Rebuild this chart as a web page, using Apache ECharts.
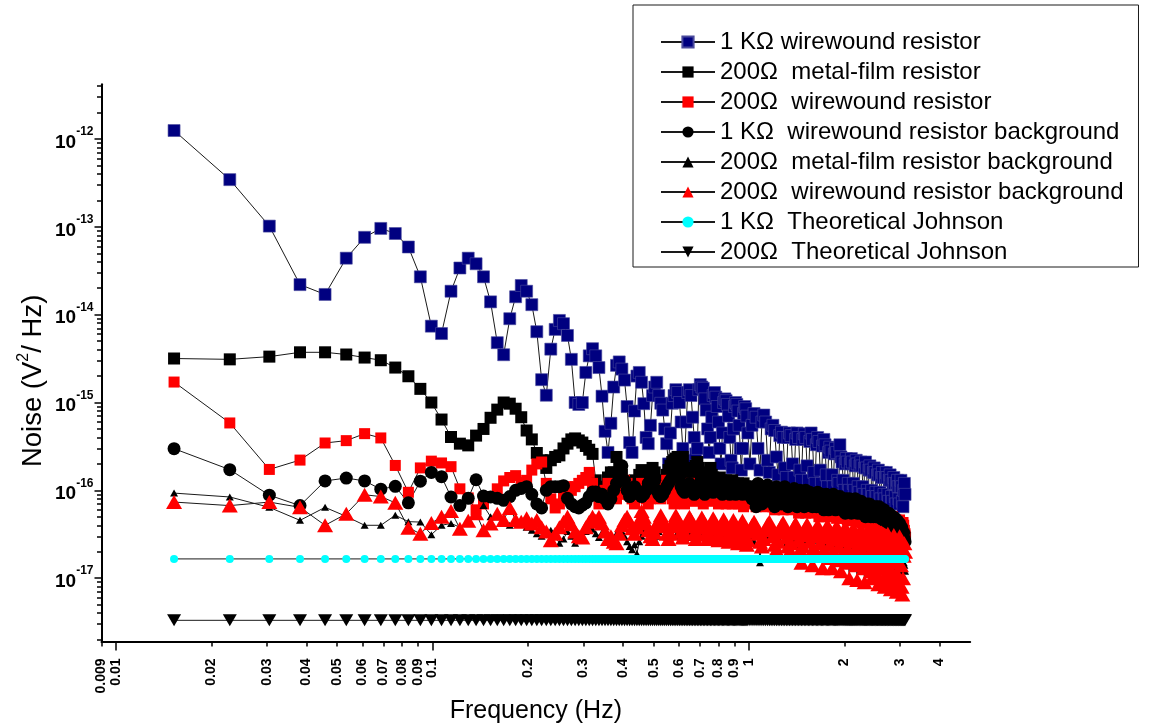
<!DOCTYPE html>
<html>
<head>
<meta charset="utf-8">
<title>Resistor noise spectra</title>
<script src="https://cdn.jsdelivr.net/npm/echarts@6/dist/echarts.min.js"></script>
<style>
html, body { margin: 0; padding: 0; background: #fff; }
#chart { width: 1149px; height: 727px; }
</style>
</head>
<body>
<div id="chart"></div>
<script>
// ---------------- data ----------------
// FFT bin width (Hz); bins 2..130 every bin, 132..408 every second bin
const DF_HZ = 0.0076294;
const BIN_INDEX = [];
for (let n = 2; n <= 130; n++) BIN_INDEX.push(n);
for (let n = 132; n <= 408; n += 2) BIN_INDEX.push(n);
const FREQ_HZ = BIN_INDEX.map(n => n * DF_HZ);

// noise values below are in units of 1e-17 V^2/Hz
const UNIT = 1e-17;

const WW_1K = [
  125000, 34500, 10200, 2200, 1700, 4400, 7600, 9600, 8400,
  5900, 2700, 740, 610, 1850, 3400, 4400, 3800, 2700, 1400,
  480, 350, 900, 1600, 2150, 1850, 1300, 640, 182, 121,
  405, 680, 860, 790, 580, 310, 100, 95, 100, 220,
  340, 410, 340, 250, 118, 47, 27, 58, 150, 265,
  290, 240, 180, 90, 35, 27, 80, 200, 220, 170,
  97, 40, 34, 55, 120, 150, 170, 120, 98, 82,
  50, 34, 20, 45, 98, 120, 140, 130, 100, 60,
  30, 22, 60, 130, 140, 120, 68, 40, 26, 30,
  140, 160, 150, 145, 110, 82, 50, 27, 40, 68,
  120, 130, 115, 90, 60, 30, 20, 45, 100, 110,
  105, 95, 70, 40, 22, 18, 50, 90, 100, 95,
  80, 55, 30, 17, 30, 75, 90, 85, 70, 45,
  20, 55, 75, 68, 30, 17, 60, 72, 60, 22,
  16, 50, 55, 48, 24, 15, 42, 46, 40, 18,
  14, 40, 45, 42, 20, 14, 38, 45, 40, 17,
  13, 38, 44, 40, 19, 13, 36, 45, 38, 16,
  12, 33, 40, 36, 17, 12, 32, 38, 33, 15,
  11, 27, 31, 28, 15, 11, 26, 30, 27, 13,
  12, 33, 24, 21, 13, 10, 20, 23, 21, 12,
  10, 20, 23, 21, 12, 10, 19, 22, 20, 11,
  9.5, 19, 21, 19, 11, 9, 18, 21, 18, 10,
  9, 17, 19, 17, 10, 8.5, 16, 18, 16, 9.5,
  8.5, 15, 17, 15, 9.5, 8, 14, 16, 14, 9,
  8, 14, 16, 14, 9, 7.5, 13, 15, 13, 8.5,
  7.5, 12, 14, 12, 8.5, 7, 12, 13, 11, 8,
  7, 11, 13, 11, 7.5, 6.5, 10, 12, 9
];

const MF_200 = [
  317, 310, 333, 373, 373, 352, 325, 303, 250,
  199, 143, 100, 64, 40.5, 34, 32.5, 42, 50, 67,
  83, 100, 97, 85, 68, 48, 38, 26.6, 22, 18,
  22, 24, 25, 30, 34, 38, 39, 37, 35, 32,
  29, 26, 13, 10, 9, 11, 14, 16, 16, 24,
  18, 15, 12, 10, 9, 11, 13, 12, 15, 17,
  16, 14, 12, 15, 18, 16, 12, 10, 9, 11,
  13, 15, 17, 19, 21, 22, 23, 24, 22, 20,
  24, 18, 14, 11, 10, 12, 15, 17, 19, 21,
  18, 15, 12, 10, 9, 12, 14, 16, 18, 15,
  14, 12, 11, 10, 12, 14, 13, 11, 10, 12,
  13, 12, 10, 9, 11, 13, 12, 10, 9, 11,
  12, 11, 10, 9, 10, 12, 11, 9, 9, 10,
  11, 10, 9, 10, 11, 9, 8.5, 10, 11, 9,
  9, 10, 8.5, 8, 9.5, 10, 9, 8, 9, 10,
  9, 8, 8.5, 9.5, 9, 8, 7.5, 9, 9, 8,
  8, 9, 8.5, 7.5, 8, 9, 8, 7.5, 8.5, 9,
  8, 7.5, 8, 8.5, 7.5, 7, 8, 8.5, 7.5, 7,
  7.5, 8, 7, 6.5, 7.5, 8, 7, 6.5, 7, 7.5,
  7, 6.5, 7, 7.5, 6.5, 6, 7, 7, 6.5, 6,
  6.5, 7, 6.5, 6, 6.5, 7, 6, 5.5, 6.5, 6.5,
  6, 5.5, 6, 6.5, 6, 5.5, 6, 6, 5.5, 5,
  5.5, 6, 5.5, 5, 5.5, 6, 5.5, 5, 5.5, 5,
  5, 5.5, 5, 4.8, 5, 5.5, 5, 4.6, 5, 4.8,
  4.6, 5, 4.8, 4.4, 4.6, 5, 4.6, 4.3, 4.5, 4.2,
  4.4, 4.2, 4, 4.3, 4.1, 3.8, 4, 3.9, 3.6, 3.8,
  3.6, 3.5, 3.7, 3.4, 3.2, 3.4, 3.1, 3.0, 2.9
];

const WW_200 = [
  171, 58.5, 17.3, 22.1, 34.6, 36.8, 44.2, 39.5, 19.2,
  9.5, 18, 21.5, 20.5, 18.6, 10.4, 8.2, 6, 7, 8.5,
  10.4, 12.8, 14, 14.7, 12.3, 13, 17, 20, 21, 12,
  8, 6.3, 7, 9, 11, 10, 11, 12, 13, 14,
  16, 12, 9, 7, 8, 10, 12, 11, 9, 8,
  9, 11, 13, 12, 10, 8, 7, 9, 11, 12,
  10, 8, 7, 8, 10, 12, 11, 9, 8, 9,
  11, 13, 12, 10, 8, 7, 8, 10, 11, 9,
  8, 7, 9, 11, 12, 10, 8, 7.5, 9, 10,
  11, 9, 8, 7, 8, 10, 11, 9, 7.5, 8,
  10, 11, 9.5, 8, 7, 8, 9.5, 10, 9, 7.5,
  7, 8.5, 10, 9, 7.5, 7, 8, 9.5, 9, 7.5,
  7, 7.5, 9, 9.5, 8, 6.5, 7, 8.5, 9, 7.5,
  8, 9, 7.5, 6.5, 7, 8.5, 9, 7.5, 6.5, 7,
  8.5, 8, 6.5, 6, 7, 8, 8.5, 7, 6, 6.5,
  8, 8.5, 7, 6, 6.5, 7.5, 8, 6.5, 5.5, 6.5,
  7.5, 8, 6.5, 5.5, 6, 7.5, 7.5, 6, 5.5, 6.5,
  7.5, 7, 6, 5, 6, 7, 7, 5.5, 5, 6,
  7, 6.5, 5.5, 5, 5.5, 6.5, 7, 5.5, 4.8, 5.5,
  6.5, 6.5, 5.5, 4.8, 5.5, 6.5, 6, 5, 4.6, 5.5,
  6.5, 6, 5, 4.5, 5, 6, 6, 5, 4.4, 5,
  6, 5.5, 4.8, 4.3, 5, 5.8, 5.5, 4.6, 4.2, 5,
  5.8, 5.5, 4.6, 4.1, 4.8, 5.5, 5.2, 4.4, 4, 4.6,
  5.5, 5, 4.4, 3.9, 4.5, 5.2, 5, 4.2, 3.8, 4.4,
  5.2, 4.8, 4.1, 3.7, 4.3, 5, 4.6, 4, 3.6, 4.2,
  5, 4.5, 3.9, 3.5, 4, 4.6, 4.4, 3.8, 3.4, 3.9,
  4.6, 4.2, 3.7, 3.3, 3.8, 4.3, 4, 3.5, 3.2
];

const WW_1K_BG = [
  29.8, 17.2, 8.8, 6.7, 12.8, 13.8, 12.8, 10.3, 11.1,
  7.2, 12.7, 16, 14.3, 8.4, 6.7, 8.1, 13.2, 8.6, 8.4,
  8.1, 7.7, 8.5, 10, 10.5, 11, 9, 7, 6.3, 10,
  11, 11, 11, 11.3, 8.1, 7, 6.5, 6.3, 6.8, 7.2,
  8.5, 9.6, 9.6, 8.5, 9, 8, 7, 8, 10, 12,
  14, 19, 13, 10, 8.5, 9, 11, 10, 9, 8.5,
  9, 10, 12, 14, 17, 13, 10, 9, 8.5, 9,
  10, 11, 12, 13, 14, 16, 19, 20, 14, 11,
  10, 9.5, 10, 11, 12, 11, 10, 9, 9.5, 10.5,
  11, 12, 10.5, 9.5, 9, 10, 11, 12, 11, 10,
  9.5, 10, 11, 12, 11, 10, 9.5, 9, 10, 11,
  11.5, 11, 10, 9, 9.5, 10.5, 11, 10, 9, 9.5,
  10, 11, 10.5, 9.5, 9, 9.5, 10.5, 11, 10, 9,
  11, 8, 10, 6.5, 12, 9, 7, 10.5, 8.5, 11.5,
  7.5, 10, 9, 6.5, 11, 8, 10.5, 7, 9.5, 11,
  8, 6.5, 10, 9, 7, 10.5, 8, 6.5, 9.5, 10,
  7.5, 9, 6.5, 10, 8, 7, 9.5, 8.5, 6.5, 9,
  8.5, 6.5, 9.5, 7.5, 6.5, 9, 8, 6, 8.5, 9,
  7, 6, 8.5, 8, 6.5, 9, 7, 6, 8.5, 7.5,
  6.5, 8.5, 7, 6, 8, 7.5, 5.5, 8, 7, 6.5,
  8, 6.5, 5.5, 7.5, 7, 6, 8, 6.5, 5.5, 7.5,
  7, 5.5, 7.5, 6.5, 5.5, 7, 6.5, 5, 7, 6.5,
  5.5, 7, 6, 5, 6.5, 6.5, 5, 6.5, 6, 5,
  6.5, 5.5, 5, 6.5, 6, 4.8, 6, 5.5, 4.6, 6,
  5.5, 4.5, 5.5, 5.2, 4.3, 5.5, 5, 4.2, 5.2, 4.8,
  4, 5, 4.6, 3.8, 4.8, 4.2, 3.5, 4.5, 4, 3.4,
  4.2, 3.6, 3.1, 3.8, 3.2, 2.8, 3.3, 2.8, 2.6
];

const MF_200_BG = [
  9.3, 8.4, 6.4, 4.55, 6.4, 5.05, 4.0, 4.0, 5.2,
  4.4, 4.35, 3.13, 4.0, 4.2, 3.8, 4.2, 5.6, 6.7, 5.0,
  5.0, 4.3, 4.0, 4.5, 4.2, 3.8, 3.5, 3.2, 3.0, 3.3,
  3.5, 3.0, 2.5, 2.8, 3.4, 3.0, 2.5, 2.7, 3.0, 3.4,
  3.8, 3.6, 3.2, 2.9, 3.3, 3.6, 3.0, 2.5, 2.8, 3.2,
  3.6, 3.4, 3.0, 2.6, 2.3, 2.1, 2.4, 1.9, 2.6, 3.0,
  3.4, 3.8, 4.0, 3.6, 3.2, 2.8, 3.0, 3.4, 3.9, 4.2,
  3.8, 3.3, 2.9, 3.2, 3.6, 4.0, 3.7, 3.3, 3.0, 3.4,
  3.8, 4.1, 3.7, 3.2, 2.9, 3.3, 3.7, 4.0, 3.6, 3.1,
  2.9, 3.3, 3.8, 4.2, 3.9, 3.4, 3.0, 3.3, 3.7, 4.0,
  3.6, 3.2, 2.8, 3.1, 3.5, 3.9, 3.6, 3.1, 2.8, 3.2,
  3.6, 3.9, 3.5, 3.0, 2.7, 3.1, 3.5, 3.8, 3.4, 3.0,
  2.7, 3.0, 3.4, 3.7, 3.3, 2.9, 2.6, 3.0, 3.4, 3.6,
  3.3, 2.9, 2.6, 3.0, 3.4, 1.5, 3.2, 2.8, 2.6, 3.0,
  3.4, 3.6, 3.2, 2.8, 2.5, 2.9, 3.3, 3.5, 3.1, 2.7,
  2.5, 2.8, 3.2, 3.4, 3.0, 2.6, 2.4, 2.8, 3.1, 3.3,
  2.9, 2.6, 2.4, 2.7, 3.0, 3.2, 2.9, 2.5, 2.3, 2.7,
  3.0, 3.1, 2.8, 2.5, 2.3, 2.6, 2.9, 3.0, 2.7, 2.4,
  2.2, 2.5, 2.8, 2.9, 2.6, 2.3, 2.2, 2.5, 2.8, 2.8,
  2.5, 2.2, 2.1, 2.4, 2.7, 2.7, 2.4, 2.1, 2.0, 2.3,
  2.6, 2.6, 2.3, 2.1, 2.0, 2.3, 2.5, 2.5, 2.2, 2.0,
  1.9, 2.2, 2.4, 2.4, 2.1, 1.9, 1.9, 2.1, 2.3, 2.3,
  2.0, 1.8, 1.8, 2.0, 2.2, 2.2, 1.9, 1.7, 1.7, 1.9,
  2.1, 2.1, 1.8, 1.6, 1.6, 1.8, 2.0, 2.0, 1.7, 1.5,
  1.5, 1.7, 1.9, 1.9, 1.6, 1.4, 1.4, 1.6, 1.8, 1.8,
  1.5, 1.3, 1.3, 1.5, 1.7, 1.7, 1.4, 1.2, 1.2, 1.4,
  1.6, 1.6, 1.3, 1.1, 1.1, 1.3, 1.5, 1.4, 1.2
];

const WW_200_BG = [
  7.35, 6.7, 7.35, 6.4, 4.0, 5.4, 8.9, 8.5, 7.2,
  3.76, 3.2, 4.24, 5.0, 5.8, 3.66, 4.5, 5.5, 3.5, 4.2,
  5.4, 4.6, 6.3, 4.6, 4.4, 4.8, 4.2, 4.6, 3.8, 3.4,
  2.7, 3.2, 3.8, 4.4, 5.0, 4.1, 3.4, 3.0, 2.9, 3.8,
  4.4, 5.0, 4.5, 5.0, 4.2, 3.4, 2.8, 3.0, 2.6, 2.5,
  3.2, 4.0, 4.6, 5.0, 4.4, 3.7, 3.2, 3.8, 4.6, 5.8,
  5.0, 4.2, 3.5, 3.0, 2.8, 3.3, 4.0, 4.6, 5.2, 4.6,
  3.9, 3.2, 2.8, 3.2, 3.9, 4.6, 5.2, 4.7, 4.0, 3.4,
  2.9, 3.3, 3.9, 4.5, 5.0, 4.6, 3.9, 3.2, 2.8, 3.2,
  3.8, 4.4, 4.9, 4.5, 3.8, 3.2, 2.8, 3.1, 3.7, 4.3,
  4.8, 4.4, 3.7, 3.1, 2.7, 3.0, 3.6, 4.2, 4.7, 4.3,
  3.6, 3.0, 2.6, 2.9, 3.5, 4.1, 4.6, 4.2, 3.5, 2.9,
  2.5, 2.8, 3.4, 4.0, 4.5, 4.1, 3.4, 2.8, 2.4, 2.7,
  3.4, 4.0, 4.4, 3.9, 3.2, 2.6, 2.3, 2.8, 3.5, 4.1,
  4.4, 3.8, 3.0, 2.4, 2.1, 2.6, 3.3, 4.0, 4.3, 3.6,
  2.9, 2.3, 2.0, 2.5, 3.2, 3.9, 4.2, 3.5, 2.7, 2.1,
  1.5, 2.3, 3.1, 3.8, 4.1, 3.4, 2.6, 1.9, 1.4, 2.2,
  3.0, 3.7, 4.0, 3.3, 2.5, 1.8, 1.3, 2.1, 2.9, 3.6,
  4.0, 3.2, 2.4, 1.7, 1.3, 2.0, 2.8, 3.5, 3.9, 3.1,
  2.3, 1.6, 1.2, 1.9, 2.7, 3.4, 3.8, 3.0, 2.2, 1.5,
  1.0, 1.8, 2.6, 3.3, 3.7, 2.9, 2.1, 1.4, 0.95, 1.7,
  2.5, 3.2, 3.6, 2.8, 2.0, 1.3, 0.9, 1.6, 2.4, 3.1,
  3.5, 2.7, 1.9, 1.2, 1.0, 1.5, 2.3, 3.0, 3.4, 2.6,
  1.8, 1.1, 0.85, 1.4, 2.2, 2.9, 3.3, 2.5, 1.7, 1.0,
  0.8, 1.3, 2.1, 2.8, 3.2, 2.4, 1.6, 0.95, 0.75, 1.2,
  2.0, 2.7, 3.1, 2.3, 1.5, 0.9, 0.7, 1.1, 1.9, 2.6,
  3.0, 2.2, 1.4, 0.8, 0.65, 1.0, 1.8, 2.5, 2.0
];

// theoretical Johnson noise levels (V^2/Hz), constant over frequency
const JOHNSON_1K = 1.656e-17;
const JOHNSON_200 = 3.31e-18;

const SERIES_NAMES = [
  '1 KΩ wirewound resistor',
  '200Ω  metal-film resistor',
  '200Ω  wirewound resistor',
  '1 KΩ  wirewound resistor background',
  '200Ω  metal-film resistor background',
  '200Ω  wirewound resistor background',
  '1 KΩ  Theoretical Johnson',
  '200Ω  Theoretical Johnson'
];

// axes
const X_MIN = 0.009, X_MAX = 5;
const Y_MIN = 1.9e-18, Y_MAX = 4.2e-12;
const X_LABEL_TICKS = [0.009, 0.01, 0.02, 0.03, 0.04, 0.05, 0.06, 0.07, 0.08, 0.09,
  0.1, 0.2, 0.3, 0.4, 0.5, 0.6, 0.7, 0.8, 0.9, 1, 2, 3, 4];
const X_MAJOR_TICKS = [0.01, 0.1, 1];
const X_MINOR_TICKS = X_LABEL_TICKS.filter(v => X_MAJOR_TICKS.indexOf(v) < 0);
const Y_MAJOR_TICKS = [1e-17, 1e-16, 1e-15, 1e-14, 1e-13, 1e-12];
const Y_MINOR_TICKS = [];
for (let k = -18; k <= -12; k++) {
  for (let m = 2; m <= 9; m++) {
    const v = m * Math.pow(10, k);
    if (v >= Y_MIN && v <= Y_MAX) Y_MINOR_TICKS.push(v);
  }
}

// ---------------- chart ----------------
const FONT = "'Liberation Sans', Arial, Helvetica, sans-serif";
const toPairs = arr => arr.map((v, i) => [FREQ_HZ[i], v * UNIT]);
const constPairs = level => FREQ_HZ.map(f => [f, level]);

const GRID_BOX = { left: 101.5, right: 178.8, top: 84.3, bottom: 85.5 };

function lineSeries(name, data, symbol, size, color, extra) {
  return Object.assign({
    name: name,
    type: 'line',
    data: data,
    xAxisIndex: 0,
    yAxisIndex: 0,
    symbol: symbol,
    symbolSize: size,
    showAllSymbol: true,
    itemStyle: { color: color },
    lineStyle: { color: '#1a1a1a', width: 1 },
    emphasis: { disabled: true },
    silent: true,
    animation: false
  }, extra || {});
}

const chart = echarts.init(document.getElementById('chart'), null, { renderer: 'canvas' });

const axisLineStyle = { color: '#000', width: 2 };
const tickLineStyle = { color: '#000', width: 1.5 };

const option = {
  animation: false,
  backgroundColor: '#ffffff',
  textStyle: { fontFamily: FONT, color: '#000' },
  grid: [
    Object.assign({ outerBoundsMode: 'none', containLabel: false }, GRID_BOX),
    Object.assign({ outerBoundsMode: 'none', containLabel: false }, GRID_BOX)
  ],
  xAxis: [
    {
      gridIndex: 0,
      type: 'log',
      logBase: 10,
      min: X_MIN,
      max: X_MAX,
      position: 'bottom',
      axisLine: { show: true, onZero: false, lineStyle: axisLineStyle },
      axisTick: { show: true, inside: false, length: 9, customValues: X_MAJOR_TICKS, lineStyle: tickLineStyle },
      minorTick: { show: false },
      splitLine: { show: false },
      axisLabel: {
        show: true,
        customValues: X_LABEL_TICKS,
        rotate: 90,
        margin: 17,
        color: '#000',
        fontFamily: FONT,
        fontSize: 14,
        fontWeight: 'bold',
        formatter: v => String(Number(Number(v).toPrecision(3)))
      },
      name: 'Frequency (Hz)',
      nameLocation: 'middle',
      nameGap: 55,
      nameMoveOverlap: false,
      nameTextStyle: { fontFamily: FONT, fontSize: 25, color: '#000', lineHeight: 30 }
    },
    {
      gridIndex: 1,
      type: 'log',
      logBase: 10,
      min: X_MIN,
      max: X_MAX,
      position: 'bottom',
      axisLine: { show: false, onZero: false },
      axisTick: { show: true, inside: false, length: 5, customValues: X_MINOR_TICKS, lineStyle: tickLineStyle },
      axisLabel: { show: false },
      splitLine: { show: false }
    }
  ],
  yAxis: [
    {
      gridIndex: 0,
      type: 'log',
      logBase: 10,
      min: Y_MIN,
      max: Y_MAX,
      position: 'left',
      axisLine: { show: true, onZero: false, lineStyle: axisLineStyle },
      axisTick: { show: true, inside: false, length: 7, customValues: Y_MAJOR_TICKS, lineStyle: tickLineStyle },
      minorTick: { show: false },
      splitLine: { show: false },
      axisLabel: {
        show: true,
        customValues: Y_MAJOR_TICKS,
        margin: 8,
        color: '#000',
        fontFamily: FONT,
        formatter: v => '{b|10}{s|' + Math.round(Math.log10(v)) + '}',
        rich: {
          b: { fontFamily: FONT, fontSize: 19, fontWeight: 'bold', color: '#000', lineHeight: 26, verticalAlign: 'bottom' },
          s: { fontFamily: FONT, fontSize: 12, fontWeight: 'bold', color: '#000', lineHeight: 12, verticalAlign: 'top' }
        }
      },
      name: '{n|Noise (V}{s|2}{n|/ Hz)}',
      nameLocation: 'middle',
      nameGap: 54,
      nameMoveOverlap: false,
      nameTextStyle: {
        fontFamily: FONT,
        fontSize: 27.5,
        color: '#000',
        padding: [0, 36, 0, 0],
        rich: {
          n: { fontFamily: FONT, fontSize: 27.5, color: '#000', lineHeight: 32, verticalAlign: 'bottom' },
          s: { fontFamily: FONT, fontSize: 16, color: '#000', lineHeight: 17, verticalAlign: 'top' }
        }
      }
    },
    {
      gridIndex: 1,
      type: 'log',
      logBase: 10,
      min: Y_MIN,
      max: Y_MAX,
      position: 'left',
      axisLine: { show: false, onZero: false },
      axisTick: { show: true, inside: false, length: 4.5, customValues: Y_MINOR_TICKS, lineStyle: tickLineStyle },
      axisLabel: { show: false },
      splitLine: { show: false }
    }
  ],
  legend: {
    orient: 'vertical',
    left: 633,
    top: 5,
    padding: [22, 15, 0, 27],
    itemGap: 0,
    itemWidth: 54,
    itemHeight: 14,
    borderColor: '#1a1a1a',
    borderWidth: 1,
    backgroundColor: '#ffffff',
    selectedMode: false,
    textStyle: { fontFamily: FONT, fontSize: 24, color: '#000', lineHeight: 30 },
    data: SERIES_NAMES
  },
  series: [
    lineSeries(SERIES_NAMES[0], toPairs(WW_1K), 'rect', 12, '#000080',
      { itemStyle: { color: '#000080', borderColor: '#4a4a9c', borderWidth: 0.6 } }),
    lineSeries(SERIES_NAMES[1], toPairs(MF_200), 'rect', 12, '#000000'),
    lineSeries(SERIES_NAMES[2], toPairs(WW_200), 'rect', 11, '#ff0000'),
    lineSeries(SERIES_NAMES[3], toPairs(WW_1K_BG), 'circle', 13, '#000000'),
    lineSeries(SERIES_NAMES[4], toPairs(MF_200_BG), 'triangle', [8, 7], '#000000'),
    lineSeries(SERIES_NAMES[5], toPairs(WW_200_BG), 'triangle', [16, 14], '#ff0000'),
    lineSeries(SERIES_NAMES[6], constPairs(JOHNSON_1K), 'circle', 8, '#00ffff'),
    lineSeries(SERIES_NAMES[7], constPairs(JOHNSON_200), 'path://M0,0L14,0L7,12Z', [14, 12], '#000000')
  ]
};

chart.setOption(option);
</script>
</body>
</html>
